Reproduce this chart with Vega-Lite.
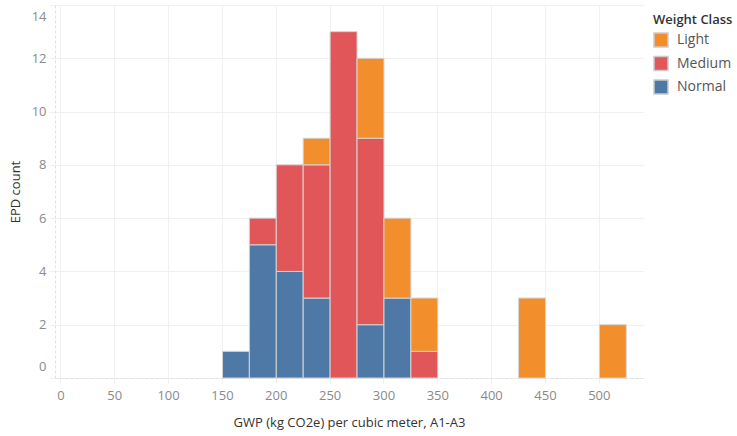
{
  "$schema": "https://vega.github.io/schema/vega-lite/v6.json",
  "width": 588,
  "height": 373,
  "autosize": {"type": "none"},
  "padding": {"left": 55, "top": 5, "right": 94, "bottom": 58},
  "background": "white",
  "config": {
    "view": {"stroke": null},
    "font": "Open Sans"
  },
  "data": {
    "values": [
      {"bin_start": 150, "bin_end": 175, "class": "Normal", "count": 1},
      {"bin_start": 175, "bin_end": 200, "class": "Normal", "count": 5},
      {"bin_start": 175, "bin_end": 200, "class": "Medium", "count": 1},
      {"bin_start": 200, "bin_end": 225, "class": "Normal", "count": 4},
      {"bin_start": 200, "bin_end": 225, "class": "Medium", "count": 4},
      {"bin_start": 225, "bin_end": 250, "class": "Normal", "count": 3},
      {"bin_start": 225, "bin_end": 250, "class": "Medium", "count": 5},
      {"bin_start": 225, "bin_end": 250, "class": "Light", "count": 1},
      {"bin_start": 250, "bin_end": 275, "class": "Medium", "count": 13},
      {"bin_start": 275, "bin_end": 300, "class": "Normal", "count": 2},
      {"bin_start": 275, "bin_end": 300, "class": "Medium", "count": 7},
      {"bin_start": 275, "bin_end": 300, "class": "Light", "count": 3},
      {"bin_start": 300, "bin_end": 325, "class": "Normal", "count": 3},
      {"bin_start": 300, "bin_end": 325, "class": "Light", "count": 3},
      {"bin_start": 325, "bin_end": 350, "class": "Medium", "count": 1},
      {"bin_start": 325, "bin_end": 350, "class": "Light", "count": 2},
      {"bin_start": 425, "bin_end": 450, "class": "Light", "count": 3},
      {"bin_start": 500, "bin_end": 525, "class": "Light", "count": 2}
    ]
  },
  "mark": {"type": "bar", "stroke": "#d4d4d4", "strokeWidth": 1, "opacity": 1, "binSpacing": 0},
  "encoding": {
    "x": {
      "field": "bin_start",
      "type": "quantitative",
      "bin": {"binned": true, "step": 25},
      "scale": {"domain": [-5, 541], "nice": false, "zero": false},
      "axis": {
        "title": "GWP (kg CO2e) per cubic meter, A1-A3",
        "values": [0, 50, 100, 150, 200, 250, 300, 350, 400, 450, 500],
        "format": "d",
        "grid": true,
        "gridColor": "#f0f0f0",
        "gridWidth": 1,
        "domain": true,
        "domainColor": "#e0e0e0",
        "domainDash": [3, 2],
        "domainWidth": 1,
        "ticks": true,
        "tickColor": "#f0f0f0",
        "tickSize": 5,
        "labelColor": "#8a8a8a",
        "labelFontSize": 13,
        "labelPadding": 6,
        "labelFlush": false,
        "titleColor": "#333333",
        "titleFontSize": 13,
        "titleFontWeight": "normal",
        "titlePadding": 14
      }
    },
    "x2": {"field": "bin_end"},
    "y": {
      "field": "count",
      "type": "quantitative",
      "stack": "zero",
      "scale": {"domain": [0, 14], "nice": false},
      "axis": {
        "title": "EPD count",
        "values": [0, 2, 4, 6, 8, 10, 12, 14],
        "grid": true,
        "gridColor": "#f0f0f0",
        "gridWidth": 1,
        "domain": true,
        "domainColor": "#e0e0e0",
        "domainDash": [3, 2],
        "ticks": true,
        "tickColor": "#f0f0f0",
        "tickSize": 6,
        "labelColor": "#8a8a8a",
        "labelFontSize": 13,
        "labelPadding": 3,
        "labelFlush": true,
        "labelFlushOffset": -5,
        "titleColor": "#333333",
        "titleFontSize": 13,
        "titleFontWeight": "normal",
        "titlePadding": 9
      }
    },
    "color": {
      "field": "class",
      "type": "nominal",
      "scale": {"domain": ["Light", "Medium", "Normal"], "range": ["#F28E2B", "#E15759", "#4E79A7"]},
      "legend": {
        "title": "Weight Class",
        "orient": "none",
        "legendX": 598,
        "legendY": 9,
        "titleFontSize": 13,
        "titleFontWeight": 600,
        "titleColor": "#333333",
        "titlePadding": 5,
        "labelFontSize": 14,
        "labelColor": "#555555",
        "labelOffset": 8,
        "symbolType": "square",
        "symbolSize": 196,
        "symbolStrokeColor": "#cccccc",
        "symbolStrokeWidth": 1.5,
        "symbolOpacity": 1,
        "rowPadding": 3.5
      }
    },
    "order": {"field": "class", "sort": "descending"}
  }
}
